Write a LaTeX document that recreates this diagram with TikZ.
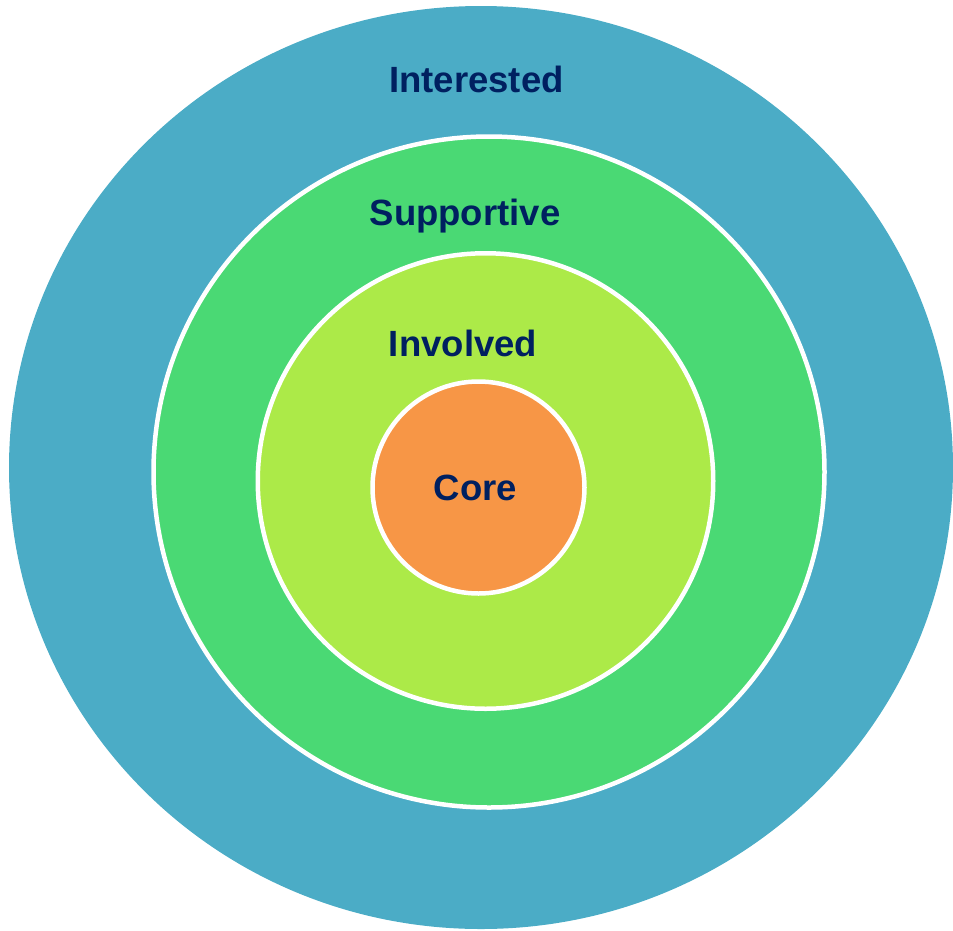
\documentclass[tikz,border=0pt]{standalone}
\usepackage{fontspec}
\setmainfont{Liberation Sans}
\usetikzlibrary{shapes.geometric}
\definecolor{ringblue}{RGB}{75, 172, 198}
\definecolor{ringgreen}{RGB}{74, 217, 116}
\definecolor{ringlime}{RGB}{172, 234, 72}
\definecolor{ringorange}{RGB}{247, 150, 70}
\definecolor{labelnavy}{RGB}{0, 32, 96}
\tikzstyle{ring} = [circle, draw=white, line width=4.5pt, inner sep=0pt]
\tikzstyle{ringlabel} = [anchor=base, text=labelnavy, inner sep=0pt,
    font=\fontsize{36.5}{40}\selectfont\bfseries]

\begin{document}
\begin{tikzpicture}[x=1pt, y=-1pt]
  \useasboundingbox (0,0) rectangle (953,930);
  \node [ellipse, fill=ringblue, minimum width=944pt, minimum height=923pt, inner sep=0pt] (interested) at (481,467.5) {};
  \node [ring, fill=ringgreen, minimum size=671pt] (supportive) at (489,472) {};
  \node [ring, fill=ringlime, minimum size=455.5pt] (involved) at (485.5,481) {};
  \node [ring, fill=ringorange, minimum size=212pt] (core) at (478.5,487.5) {};
  \node [ringlabel] (interested_text) at (476.5,92) {Interested};
  \node [ringlabel] (supportive_text) at (465,225) {Supportive};
  \node [ringlabel] (involved_text) at (463,356) {Involved};
  \node [ringlabel] (core_text) at (475.5,500) {Core};
\end{tikzpicture}
\end{document}
